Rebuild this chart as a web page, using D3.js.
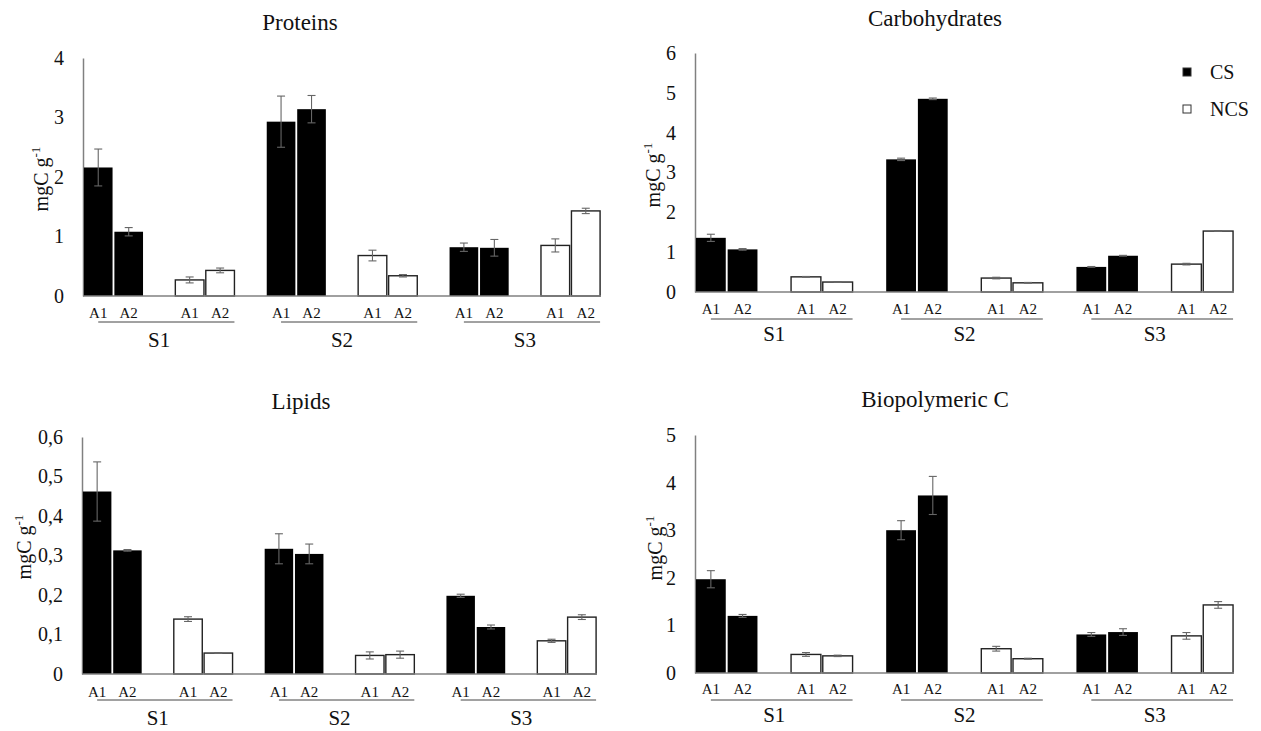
<!DOCTYPE html>
<html>
<head>
<meta charset="utf-8">
<script src="https://cdn.jsdelivr.net/npm/d3@7"></script>
<style>
  body { margin: 0; background: #fff; }
  svg { display: block; font-family: "Liberation Serif", "Times New Roman", serif; }
</style>
</head>
<body>
<div id="chart"></div>
<script>
// categories
const sites = ['S1', 'S2', 'S3'];
const periods = ['A1', 'A2'];
const groups = ['CS', 'NCS'];

// values in order S1A1, S1A2, S2A1, S2A2, S3A1, S3A2
const proteinsCS = [2.16, 1.08, 2.93, 3.14, 0.82, 0.81];
const proteinsCSErr = [0.31, 0.07, 0.43, 0.23, 0.07, 0.14];
const proteinsNCS = [0.27, 0.43, 0.68, 0.34, 0.85, 1.43];
const proteinsNCSErr = [0.05, 0.04, 0.09, 0.02, 0.11, 0.045];

const carbsCS = [1.36, 1.07, 3.33, 4.85, 0.63, 0.91];
const carbsCSErr = [0.09, 0.02, 0.03, 0.02, 0.01, 0.01];
const carbsNCS = [0.38, 0.25, 0.35, 0.23, 0.70, 1.53];
const carbsNCSErr = [0.01, 0.01, 0.02, 0.01, 0.02, 0.01];

const lipidsCS = [0.462, 0.313, 0.317, 0.304, 0.198, 0.119];
const lipidsCSErr = [0.075, 0.002, 0.038, 0.025, 0.004, 0.005];
const lipidsNCS = [0.139, 0.053, 0.047, 0.049, 0.084, 0.144];
const lipidsNCSErr = [0.006, 0.001, 0.009, 0.009, 0.004, 0.006];

const bioCS = [1.97, 1.20, 3.00, 3.73, 0.81, 0.86];
const bioCSErr = [0.18, 0.03, 0.20, 0.40, 0.04, 0.07];
const bioNCS = [0.39, 0.36, 0.51, 0.30, 0.78, 1.43];
const bioNCSErr = [0.04, 0.015, 0.05, 0.01, 0.07, 0.07];

// tick labels
const proteinsTicks = [0, 1, 2, 3, 4];
const carbsTicks = [0, 1, 2, 3, 4, 5, 6];
const lipidsTicks = [0, 0.1, 0.2, 0.3, 0.4, 0.5, 0.6];
const bioTicks = [0, 1, 2, 3, 4, 5];

const panels = [
  { title: 'Proteins', cs: proteinsCS, csErr: proteinsCSErr, ncs: proteinsNCS, ncsErr: proteinsNCSErr,
    ticks: proteinsTicks, left: 83, right: 601, top: 58, bottom: 296,
    titleX: 300, titleY: 30, perY: 318, lineY: 322, siteY: 347, labX: 41, labY: 179 },
  { title: 'Carbohydrates', cs: carbsCS, csErr: carbsCSErr, ncs: carbsNCS, ncsErr: carbsNCSErr,
    ticks: carbsTicks, left: 695, right: 1234, top: 53, bottom: 292,
    titleX: 935, titleY: 26, perY: 314, lineY: 319, siteY: 341, labX: 653, labY: 175, legend: true },
  { title: 'Lipids', cs: lipidsCS, csErr: lipidsCSErr, ncs: lipidsNCS, ncsErr: lipidsNCSErr,
    ticks: lipidsTicks, left: 82, right: 597, top: 437, bottom: 674,
    titleX: 301, titleY: 409, perY: 697, lineY: 700, siteY: 725, labX: 24, labY: 547 },
  { title: 'Biopolymeric C', cs: bioCS, csErr: bioCSErr, ncs: bioNCS, ncsErr: bioNCSErr,
    ticks: bioTicks, left: 695, right: 1234, top: 435, bottom: 673,
    titleX: 935, titleY: 407, perY: 694, lineY: 700, siteY: 722, labX: 655, labY: 548 }
];

const width = 1261;
const height = 731;

const svg = d3.select('#chart')
  .append('svg')
  .attr('width', width)
  .attr('height', height);

// slot layout: per site CS A1, CS A2, gap, NCS A1, NCS A2, gap (no gap after last site)
const slotCount = sites.length * 6 - 1;
const slotOf = (s, g, p) => s * 6 + g * 3 + p;

const fmt = v => d3.format('.1~f')(v).replace('.', ',');

panels.forEach(P => {
  const g = svg.append('g');

  const x = d3.scaleBand()
    .domain(d3.range(slotCount))
    .range([P.left, P.right])
    .paddingInner(0.06)
    .paddingOuter(0.03);

  const y = d3.scaleLinear()
    .domain([0, d3.max(P.ticks)])
    .range([P.bottom, P.top]);

  // flatten data
  const rows = [];
  sites.forEach((site, s) => {
    groups.forEach((grp, gi) => {
      periods.forEach((per, p) => {
        const i = s * 2 + p;
        rows.push({
          site, grp, per,
          slot: slotOf(s, gi, p),
          value: gi === 0 ? P.cs[i] : P.ncs[i],
          err: gi === 0 ? P.csErr[i] : P.ncsErr[i]
        });
      });
    });
  });

  // Y axis
  const yAxis = g.append('g')
    .attr('transform', `translate(${P.left},0)`)
    .call(d3.axisLeft(y).tickValues(P.ticks).tickSize(0).tickPadding(19)
      .tickFormat(v => (P.ticks[P.ticks.length - 1] < 1 && v !== 0) ? fmt(v) : d3.format('d')(v)));
  yAxis.select('.domain').attr('stroke', '#808080').attr('stroke-width', 1.5);
  yAxis.selectAll('text')
    .style('font-family', '"Liberation Serif", serif')
    .style('font-size', '20px')
    .attr('fill', '#111');

  // Bars
  g.selectAll('rect.bar')
    .data(rows)
    .join('rect')
    .attr('class', 'bar')
    .attr('x', d => x(d.slot))
    .attr('y', d => y(d.value))
    .attr('width', x.bandwidth())
    .attr('height', d => y(0) - y(d.value))
    .attr('fill', d => d.grp === 'CS' ? '#000' : '#fff')
    .attr('stroke', d => d.grp === 'CS' ? 'none' : '#222')
    .attr('stroke-width', 1.4);

  // X axis line
  g.append('line')
    .attr('x1', P.left).attr('x2', P.right)
    .attr('y1', y(0)).attr('y2', y(0))
    .attr('stroke', '#808080').attr('stroke-width', 1.5);

  // Error bars
  const cap = 4;
  const eb = g.selectAll('g.err')
    .data(rows)
    .join('g')
    .attr('class', 'err')
    .attr('stroke', '#666')
    .attr('stroke-width', 1.1);
  eb.append('line')
    .attr('x1', d => x(d.slot) + x.bandwidth() / 2)
    .attr('x2', d => x(d.slot) + x.bandwidth() / 2)
    .attr('y1', d => y(d.value + d.err))
    .attr('y2', d => y(d.value - d.err));
  eb.append('line')
    .attr('x1', d => x(d.slot) + x.bandwidth() / 2 - cap)
    .attr('x2', d => x(d.slot) + x.bandwidth() / 2 + cap)
    .attr('y1', d => y(d.value + d.err))
    .attr('y2', d => y(d.value + d.err));
  eb.append('line')
    .attr('x1', d => x(d.slot) + x.bandwidth() / 2 - cap)
    .attr('x2', d => x(d.slot) + x.bandwidth() / 2 + cap)
    .attr('y1', d => y(d.value - d.err))
    .attr('y2', d => y(d.value - d.err));

  // Period labels under each bar
  g.selectAll('text.per')
    .data(rows)
    .join('text')
    .attr('class', 'per')
    .attr('x', d => x(d.slot) + x.bandwidth() / 2)
    .attr('y', P.perY)
    .attr('text-anchor', 'middle')
    .style('font-size', '15px')
    .attr('fill', '#111')
    .text(d => d.per);

  // Site underline + label
  sites.forEach((site, s) => {
    const x0 = x(slotOf(s, 0, 0)) + x.bandwidth() * 0.5;
    const x1 = x(slotOf(s, 1, 1)) + x.bandwidth();
    const mid = x(slotOf(s, 0, 2)) + x.bandwidth() / 2;
    g.append('line')
      .attr('x1', x0).attr('x2', x1)
      .attr('y1', P.lineY).attr('y2', P.lineY)
      .attr('stroke', '#444').attr('stroke-width', 1);
    g.append('text')
      .attr('x', mid)
      .attr('y', P.siteY)
      .attr('text-anchor', 'middle')
      .style('font-size', '21px')
      .attr('fill', '#111')
      .text(site);
  });

  // Title
  g.append('text')
    .attr('x', P.titleX)
    .attr('y', P.titleY)
    .attr('text-anchor', 'middle')
    .style('font-size', '23px')
    .attr('fill', '#111')
    .text(P.title);

  // Y axis label
  const lab = g.append('text')
    .attr('transform', `translate(${P.labX + 7},${P.labY}) rotate(-90)`)
    .attr('text-anchor', 'middle')
    .style('font-size', '20px')
    .attr('fill', '#111');
  lab.append('tspan').text('mgC g');
  lab.append('tspan').attr('dy', -8).style('font-size', '13px').text('-1');

  // Legend
  if (P.legend) {
    const leg = g.append('g').attr('transform', 'translate(1183,0)');
    groups.forEach((grp, i) => {
      const cy = 72 + i * 37;
      leg.append('rect')
        .attr('x', 0).attr('y', cy - 4)
        .attr('width', 8).attr('height', 8)
        .attr('fill', grp === 'CS' ? '#000' : '#fff')
        .attr('stroke', '#333').attr('stroke-width', 1);
      leg.append('text')
        .attr('x', 27).attr('y', cy + 7)
        .style('font-size', '20px')
        .attr('fill', '#111')
        .text(grp);
    });
  }
});
</script>
</body>
</html>
